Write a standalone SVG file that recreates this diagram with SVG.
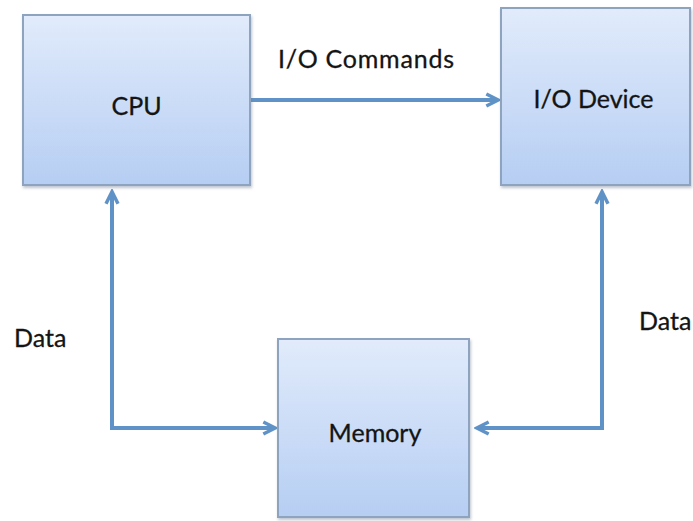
<svg xmlns="http://www.w3.org/2000/svg" width="693" height="521" viewBox="0 0 693 521">
  <style>
    .box { fill: url(#boxFill); stroke: #8ea3bd; stroke-width: 2; filter: url(#shadow); }
    .label { font-family: Lato, "Open Sans", "Liberation Sans", sans-serif; font-size: 25px; fill: #141414; stroke: #141414; stroke-width: 0.3; }
    .wire { fill: none; stroke: #5f92c6; stroke-width: 4; }
  </style>
  <defs>
    <linearGradient id="boxFill" x1="0" y1="0" x2="0" y2="1">
      <stop offset="0" stop-color="#e1ebfb"/>
      <stop offset="1" stop-color="#b6cef3"/>
    </linearGradient>
    <filter id="shadow" x="-5%" y="-5%" width="112%" height="112%">
      <feDropShadow dx="1" dy="2" stdDeviation="1.5" flood-color="#6f7f95" flood-opacity="0.45"/>
    </filter>
    <marker id="arrow" viewBox="0 0 12 12" refX="9" refY="6" markerWidth="4" markerHeight="4" orient="auto-start-reverse" markerUnits="strokeWidth">
      <path d="M1,1.5 L10,6 L1,10.5" fill="none" stroke="#5f92c6" stroke-width="2.6" stroke-linejoin="miter"/>
    </marker>
  </defs>

  <rect width="693" height="521" fill="#ffffff"/>

  <g id="connectors">
    <line class="wire" x1="251" y1="100" x2="497" y2="100" marker-end="url(#arrow)"/>
    <polyline class="wire" points="112,193 112,428 274,428" marker-start="url(#arrow)" marker-end="url(#arrow)"/>
    <polyline class="wire" points="602,193 602,428 478,428" marker-start="url(#arrow)" marker-end="url(#arrow)"/>
    <text class="label" x="278" y="68" textLength="176" lengthAdjust="spacing">I/O Commands</text>
    <text class="label" x="14" y="347">Data</text>
    <text class="label" x="639" y="330">Data</text>
  </g>

  <g id="cpu">
    <rect class="box" x="23" y="15" width="227" height="170"/>
    <text class="label" x="136.5" y="115" text-anchor="middle">CPU</text>
  </g>

  <g id="io-device">
    <rect class="box" x="501" y="8" width="189" height="177"/>
    <text class="label" x="593.5" y="108" text-anchor="middle">I/O Device</text>
  </g>

  <g id="memory">
    <rect class="box" x="278" y="339" width="191" height="178"/>
    <text class="label" x="375" y="442" text-anchor="middle">Memory</text>
  </g>
</svg>
